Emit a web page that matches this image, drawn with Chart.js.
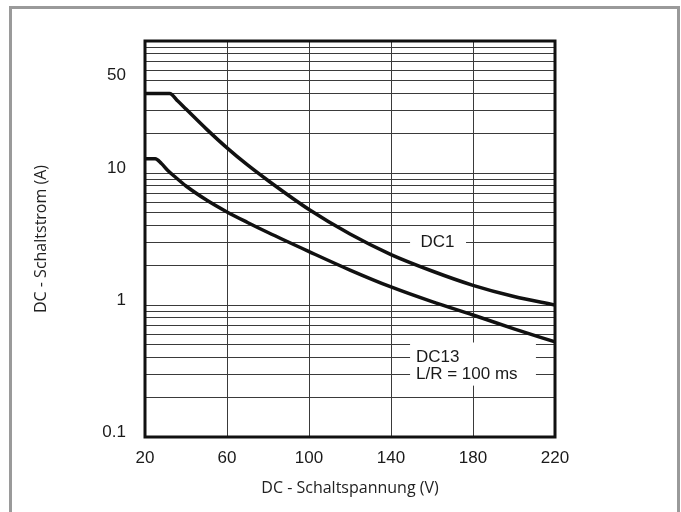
<!DOCTYPE html>
<html>
<head>
<meta charset="utf-8">
<script src="https://cdn.jsdelivr.net/npm/chart.js@4.4.1/dist/chart.umd.min.js"></script>
<style>
  html, body { margin: 0; padding: 0; background: #fff; overflow: hidden; }
  #frame { position: absolute; left: 9px; top: 6px; width: 665px; height: 520px; border: 3px solid #9a9a9a; }
  #myChart { position: absolute; left: 0; top: 0; }
</style>
</head>
<body>
<div id="frame"></div>
<canvas id="myChart" width="681" height="512"></canvas>
<script>
// DC1 curve (V, A)
var dc1Volts = [20, 32, 36, 40, 50, 60, 70, 80, 100, 120, 140, 160, 180, 200, 220];
var dc1Amps = [40, 40, 35.1, 30.5, 21.5, 15.5, 11.5, 8.77, 5.29, 3.45, 2.41, 1.81, 1.41, 1.16, 1.0];

// DC13 curve, L/R = 100 ms
var dc13Volts = [20, 25, 28, 31, 35, 40, 50, 60, 70, 80, 100, 120, 140, 160, 180, 200, 220];
var dc13Amps = [12.8, 12.8, 11.8, 10.5, 9.25, 7.97, 6.24, 5.07, 4.22, 3.54, 2.54, 1.84, 1.37, 1.06, 0.84, 0.66, 0.525];

// log grid lines and the few that get a label
var yGridValues = [0.1, 0.2, 0.3, 0.4, 0.5, 0.6, 0.7, 0.8, 0.9,
                   1, 2, 3, 4, 5, 6, 7, 8, 9,
                   10, 20, 30, 40, 50, 60, 70, 80, 90, 100];
var yLabelValues = [0.1, 1, 10, 50];
var xTickValues = [20, 60, 100, 140, 180, 220];

// in-plot labels, placed in data coordinates
var curveLabels = [
    { lines: ['DC1'], at: [[162.7, 3.0]], box: [149.3, 176.6, 3.75, 2.4], align: 'center' },
    { lines: ['DC13', 'L/R = 100 ms'], at: [[152.2, 0.4], [152.2, 0.3]], box: [149.3, 210.7, 0.52, 0.245], align: 'left' }
];

function toPoints(xs, ys) {
    var pts = [];
    for (var i = 0; i < xs.length; i++) {
        pts.push({ x: xs[i], y: ys[i] });
    }
    return pts;
}

var tickFont = { family: "'Liberation Sans', Arial, sans-serif", size: 17 };
var titleFont = { family: "'Open Sans', 'Noto Sans', sans-serif", size: 16 };

const labelPlugin = {
    id: 'curveLabels',
    afterDatasetsDraw(chart) {
        var c = chart.ctx;
        var xs = chart.scales.x, ys = chart.scales.y;
        c.save();
        curveLabels.forEach(function (lab) {
            var x1 = xs.getPixelForValue(lab.box[0]);
            var x2 = xs.getPixelForValue(lab.box[1]);
            var y1 = ys.getPixelForValue(lab.box[2]);
            var y2 = ys.getPixelForValue(lab.box[3]);
            c.fillStyle = '#fff';
            c.fillRect(x1, y1, x2 - x1, y2 - y1);
            c.fillStyle = '#1a1a1a';
            c.font = tickFont.size + 'px ' + tickFont.family;
            c.textAlign = lab.align;
            c.textBaseline = 'middle';
            lab.lines.forEach(function (t, i) {
                c.fillText(t, xs.getPixelForValue(lab.at[i][0]), ys.getPixelForValue(lab.at[i][1]));
            });
        });
        c.restore();
    },
    afterDraw(chart) {
        var a = chart.chartArea;
        var c = chart.ctx;
        c.save();
        c.strokeStyle = '#111';
        c.lineWidth = 3;
        c.strokeRect(a.left, a.top, a.right - a.left, a.bottom - a.top);
        c.restore();
    }
};

const ctx = document.getElementById('myChart');
const myChart = new Chart(ctx, {
    type: 'line',
    data: {
        datasets: [{
            label: 'DC1',
            data: toPoints(dc1Volts, dc1Amps),
            borderColor: '#111',
            borderWidth: 3.5,
            pointRadius: 0,
            cubicInterpolationMode: 'monotone'
        }, {
            label: 'DC13',
            data: toPoints(dc13Volts, dc13Amps),
            borderColor: '#111',
            borderWidth: 3.5,
            pointRadius: 0,
            cubicInterpolationMode: 'monotone'
        }]
    },
    options: {
        responsive: false,
        animation: false,
        devicePixelRatio: 1,
        layout: { padding: { top: 41, right: 126, left: 0, bottom: 0 } },
        plugins: {
            legend: { display: false },
            tooltip: { enabled: false }
        },
        scales: {
            x: {
                type: 'linear',
                min: 20,
                max: 220,
                afterFit: function (scale) { scale.height = 75; },
                afterBuildTicks: function (scale) {
                    scale.ticks = xTickValues.map(function (v) { return { value: v }; });
                },
                grid: { color: '#3a3a3a', lineWidth: 1, drawTicks: false },
                border: { display: false },
                ticks: { font: tickFont, color: '#1a1a1a', padding: 11, maxRotation: 0, autoSkip: false },
                title: {
                    display: true,
                    text: 'DC - Schaltspannung (V)',
                    font: titleFont,
                    color: '#222',
                    padding: { top: 0, bottom: 14 }
                }
            },
            y: {
                type: 'logarithmic',
                min: 0.1,
                max: 100,
                afterFit: function (scale) { scale.width = 145; },
                afterBuildTicks: function (scale) {
                    scale.ticks = yGridValues.map(function (v) { return { value: v }; });
                },
                grid: { color: '#3a3a3a', lineWidth: 1, drawTicks: false },
                border: { display: false },
                ticks: {
                    font: tickFont,
                    color: '#1a1a1a',
                    padding: 19,
                    labelOffset: -5,
                    autoSkip: false,
                    callback: function (v) {
                        return yLabelValues.indexOf(v) >= 0 ? String(v) : '';
                    }
                },
                title: {
                    display: true,
                    text: 'DC - Schaltstrom (A)',
                    font: titleFont,
                    color: '#222',
                    padding: { top: 32, bottom: 0 }
                }
            }
        }
    },
    plugins: [labelPlugin]
});
</script>
</body>
</html>
